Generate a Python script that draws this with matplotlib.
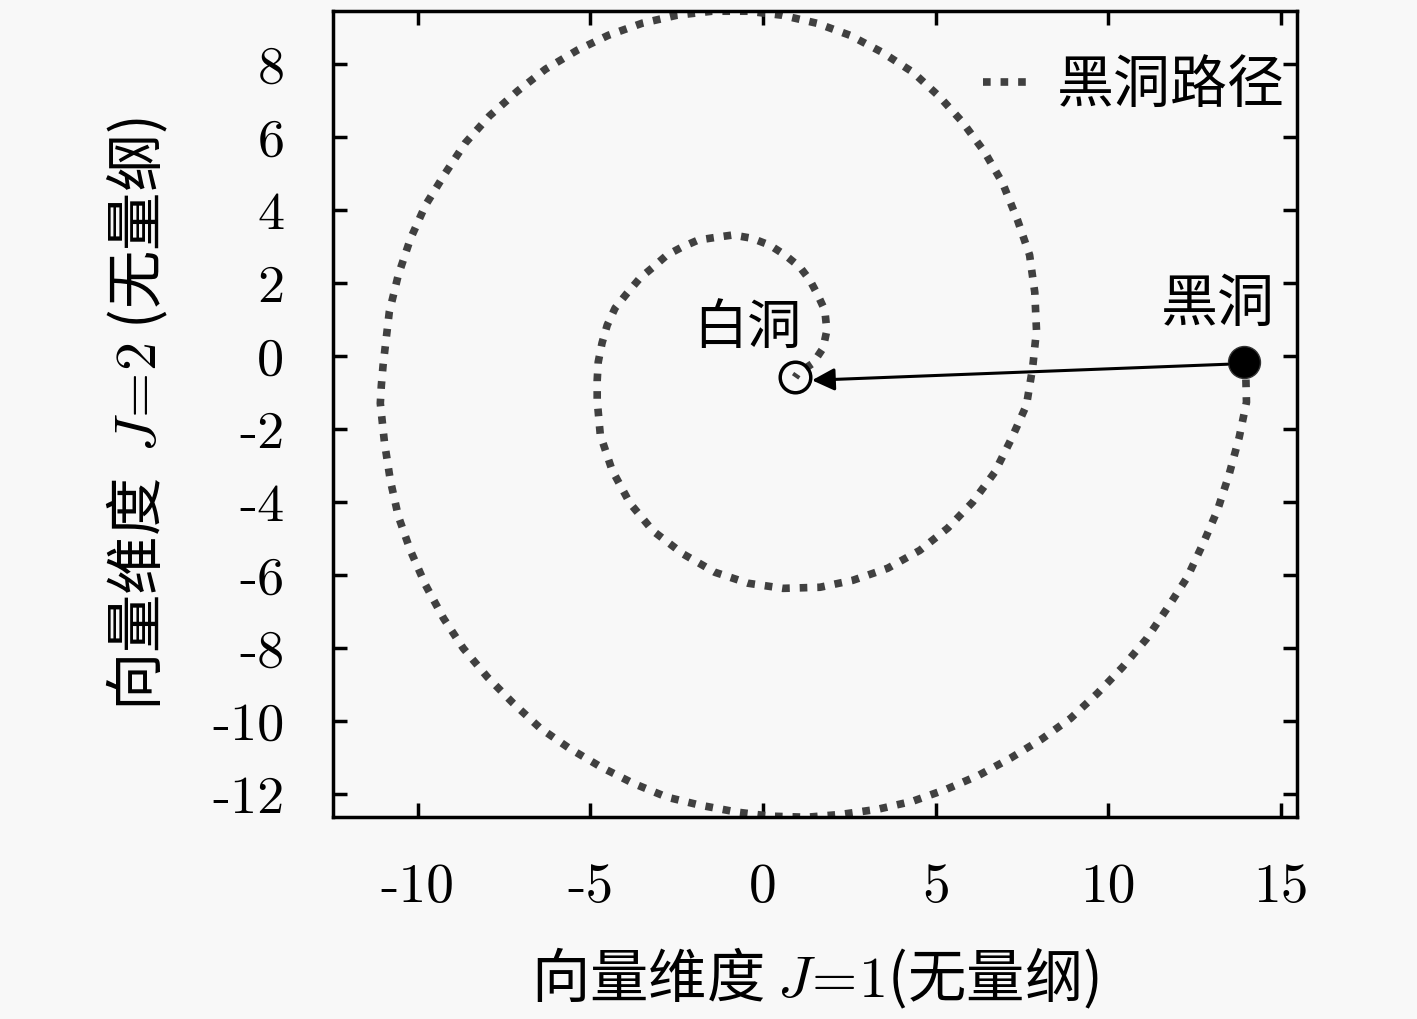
import matplotlib
matplotlib.use("Agg")
import matplotlib.pyplot as plt

plt.rcParams["font.family"] = ["Noto Sans CJK SC", "DejaVu Sans"]
plt.rcParams["mathtext.fontset"] = "cm"
plt.rcParams["axes.unicode_minus"] = False

# black hole path (from black hole inward to white hole)
path_x = [13.97, 14.00, 13.79, 13.50, 13.16, 12.75, 12.29, 11.71, 11.10, 10.41,
          9.69, 8.91, 8.07, 7.17, 6.25, 5.32, 4.34, 3.33, 2.28, 1.27,
          0.20, -0.75, -1.82, -2.78, -3.76, -4.68, -5.61, -6.45, -7.23, -7.98,
          -8.68, -9.25, -9.77, -10.21, -10.56, -10.79, -10.96, -11.08, -11.05, -11.00,
          -10.82, -10.56, -10.21, -9.77, -9.20, -8.62, -7.92, -7.11, -6.30, -5.38,
          -4.48, -3.50, -2.49, -1.47, -0.43, 0.55, 1.56, 2.52, 3.44, 4.34,
          5.12, 5.78, 6.42, 6.94, 7.37, 7.72, 7.87, 7.92, 7.81, 7.63,
          7.20, 6.71, 6.07, 5.35, 4.54, 3.61, 2.60, 1.65, 0.58, -0.43,
          -1.39, -2.31, -3.18, -3.85, -4.37, -4.71, -4.80, -4.80, -4.77, -4.66,
          -4.51, -4.28, -3.93, -3.56, -3.18, -2.78, -2.34, -1.88, -1.33, -0.87,
          -0.32, 0.20, 0.64, 1.07, 1.36, 1.59, 1.79, 1.85, 1.74, 1.45,
          1.01, 0.93]
path_y = [-0.16, -1.26, -2.22, -3.23, -4.22, -5.12, -6.05, -6.90, -7.75, -8.52,
          -9.23, -9.92, -10.49, -11.01, -11.48, -11.86, -12.19, -12.41, -12.55, -12.63,
          -12.60, -12.49, -12.30, -12.08, -11.70, -11.26, -10.74, -10.19, -9.51, -8.79,
          -8.00, -7.18, -6.27, -5.32, -4.38, -3.40, -2.36, -1.29, -0.80, -0.25,
          1.21, 2.22, 3.21, 4.14, 5.01, 5.84, 6.58, 7.26, 7.86, 8.38,
          8.79, 9.12, 9.34, 9.45, 9.45, 9.34, 9.12, 8.79, 8.33, 7.78,
          7.10, 6.41, 5.59, 4.74, 3.73, 2.77, 1.75, 0.71, -0.30, -1.34,
          -2.25, -3.18, -4.00, -4.71, -5.32, -5.81, -6.14, -6.33, -6.36, -6.22,
          -5.92, -5.42, -4.79, -4.03, -3.12, -2.16, -1.21, -0.66, -0.16, 0.36,
          0.85, 1.32, 1.73, 2.14, 2.44, 2.77, 2.99, 3.18, 3.26, 3.32,
          3.23, 3.04, 2.77, 2.44, 2.08, 1.67, 1.26, 0.71, 0.22, -0.19,
          -0.47, -0.58]

black_hole = (13.94, -0.16)
white_hole = (0.93, -0.58)
arrow_start = (13.45, -0.22)
arrow_end = (1.42, -0.66)

xticks = [-10, -5, 0, 5, 10, 15]
yticks = [8, 6, 4, 2, 0, -2, -4, -6, -8, -10, -12]

bg = "#f8f8f8"
fig = plt.figure(figsize=(14.17, 10.19), dpi=100, facecolor=bg)
ax = fig.add_axes([0.235, 0.198, 0.680, 0.791], facecolor=bg)

ax.plot(path_x, path_y, color="#404040", lw=5.5,
        linestyle=(0, (1, 1.3)), dash_capstyle="butt", label="黑洞路径")
ax.plot(*black_hole, "o", color="black", ms=23, mec="#333333")
ax.plot(*white_hole, "o", mfc="none", mec="black", ms=22, mew=2.5)
ax.annotate("", xy=arrow_end, xytext=arrow_start,
            arrowprops=dict(arrowstyle="-|>", color="black", lw=2.2,
                            mutation_scale=34, shrinkA=0, shrinkB=0))

ax.text(-0.46, 0.77, "白洞", fontsize=39, ha="center", va="center")
ax.text(13.16, 1.40, "黑洞", fontsize=41, ha="center", va="center")

ax.set_xlim(-12.45, 15.45)
ax.set_ylim(-12.63, 9.45)
ax.set_xticks(xticks)
ax.set_yticks(yticks)
ax.set_xticklabels([str(t) for t in xticks], fontfamily="cmr10", fontsize=40)
ax.set_yticklabels([str(t) for t in yticks], fontfamily="cmr10", fontsize=39)
ax.tick_params(direction="in", length=10, width=2.5, top=True, right=True)
ax.tick_params(axis="x", pad=33)
ax.tick_params(axis="y", pad=35)
for s in ax.spines.values():
    s.set_linewidth(2.5)

ax.set_xlabel("向量维度 $J\\!=\\!1$(无量纲)", fontsize=42, labelpad=24)
ax.set_ylabel("向量维度  $J\\!=\\!2$ (无量纲)", fontsize=42, labelpad=30)

ax.legend(loc="upper right", frameon=False, fontsize=41, handlelength=0.9,
          handletextpad=0.4, borderpad=0, borderaxespad=0,
          bbox_to_anchor=(0.9876, 0.944))

fig.savefig("out.png", dpi=100, facecolor=bg)
